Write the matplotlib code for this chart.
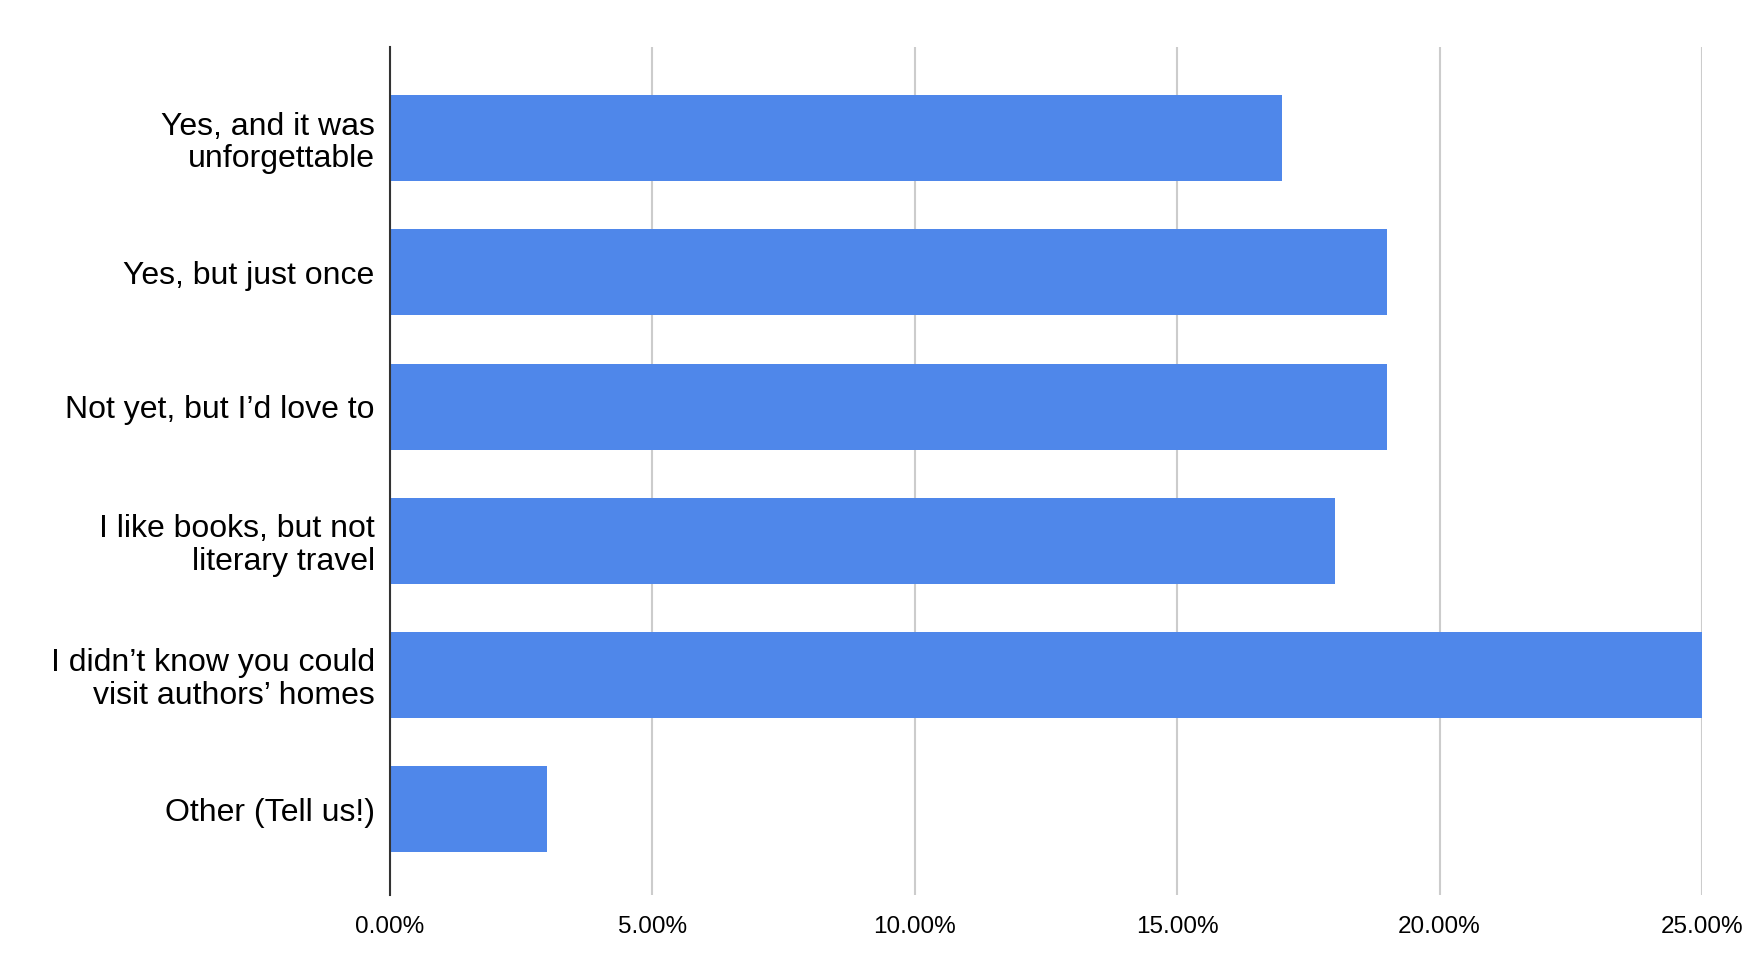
import matplotlib
matplotlib.use("Agg")
import matplotlib.pyplot as plt
from matplotlib.ticker import FuncFormatter

categories = [
    "Yes, and it was\nunforgettable",
    "Yes, but just once",
    "Not yet, but I\u2019d love to",
    "I like books, but not\nliterary travel",
    "I didn\u2019t know you could\nvisit authors\u2019 homes",
    "Other (Tell us!)",
]
values = [17, 19, 19, 18, 25, 3]
xticks = [0, 5, 10, 15, 20, 25]

plt.rcParams['font.family'] = ['Liberation Sans', 'DejaVu Sans']

fig = plt.figure(figsize=(17.48, 9.8), dpi=100)
ax = fig.add_axes([390/1748, 1-895/980, (1702-390)/1748, (895-47)/980])

ypos = list(range(len(categories)))
ax.barh(ypos, values, height=0.64, color='#4F87EA', zorder=3)
ax.set_ylim(5.64, -0.68)
ax.set_xlim(0, 25)
ax.set_xticks(xticks)
ax.xaxis.set_major_formatter(FuncFormatter(lambda v, p: f"{v:.2f}%"))
ax.set_yticks(ypos)
ax.set_yticklabels(categories, fontsize=23, linespacing=1.1)
ax.tick_params(axis='y', length=0, pad=11)
ax.tick_params(axis='x', length=0, pad=15, labelsize=17.5)
ax.grid(axis='x', color='#CCCCCC', linewidth=1.5, zorder=0)
for s in ['top', 'right', 'bottom']:
    ax.spines[s].set_visible(False)
ax.spines['left'].set_color('#333333')
ax.spines['left'].set_linewidth(1.5)
ax.spines['left'].set_zorder(4)

fig.savefig("out.png", dpi=100)
